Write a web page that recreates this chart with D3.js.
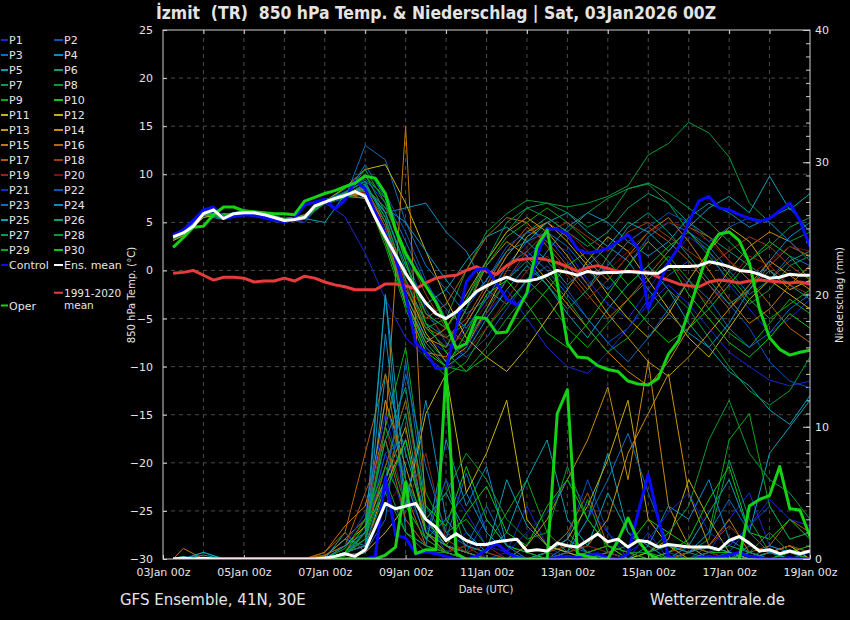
<!DOCTYPE html>
<html>
<head>
<meta charset="utf-8" />
<title>Izmit 850 hPa Temp. & Niederschlag</title>
<script src="https://cdn.jsdelivr.net/npm/d3@7"></script>
<style>
    body { margin: 0; background: #000; }
    svg { display: block; background: #000; }
    text { font-family: "DejaVu Sans", sans-serif; fill: #e4e4e4; }
    .axis path { display: none; }
    .axis line { stroke: #cfcfcf; }
    .axis text { font-size: 11px; fill: #e4e4e4; }
</style>
</head>
<body>
<script>
    // forecast hours after 03Jan2026 00z
    var hoursMain = d3.range(6, 385, 6)
    var hoursMember = [6].concat(d3.range(12, 385, 12))

    var xTickHours = [0, 48, 96, 144, 192, 240, 288, 336, 384]
    var xTickLabels = ["03Jan 00z", "05Jan 00z", "07Jan 00z", "09Jan 00z", "11Jan 00z",
        "13Jan 00z", "15Jan 00z", "17Jan 00z", "19Jan 00z"]
    var tempTicks = [-30, -25, -20, -15, -10, -5, 0, 5, 10, 15, 20, 25]
    var precipTicks = [0, 10, 20, 30, 40]

    var ensMeanTemp = [3.5, 3.9, 4.6, 5.9, 6.3, 5.4, 5.9, 6.0, 6.0, 5.8, 5.5, 5.2, 5.3, 5.5, 6.7, 7.1, 7.5, 7.8, 8.2, 7.7,
        5.5, 3.5, 1.6, -0.3, -1.9, -3.4, -4.5, -5.0, -4.3, -3.3, -2.2, -1.6, -1.1, -0.7, -1.1, -1.1, -0.9, -0.5, 0.0, -0.2,
        -0.5, -0.1, -0.3, -0.2, -0.2, -0.1, -0.2, -0.3, -0.3, 0.4, 0.4, 0.4, 0.5, 0.9, 0.7, 0.4, 0.0, -0.1, -0.4, -0.8,
        -0.7, -0.4, -0.5, -0.5]
    var climTemp = [-0.3, -0.2, 0.0, -0.5, -1.0, -0.7, -0.7, -0.8, -1.2, -1.1, -1.1, -0.8, -1.1, -0.6, -0.8, -1.2, -1.5, -1.7, -2.0, -2.0,
        -2.0, -1.4, -1.4, -1.6, -1.9, -1.3, -0.8, -0.6, -0.5, 0.0, 0.4, -0.1, -0.4, 0.5, 1.1, 1.2, 1.3, 1.1, 0.8, 0.4,
        -0.1, 0.3, 0.5, 0.2, -0.1, -0.1, -0.1, -0.2, -0.7, -1.0, -1.4, -1.6, -1.7, -1.2, -1.0, -1.1, -1.3, -1.1, -1.0, -1.1,
        -1.2, -1.3, -1.2, -1.4]
    var controlTemp = [3.7, 4.2, 5.2, 6.3, 6.6, 5.4, 5.6, 5.8, 5.7, 5.5, 5.2, 5.1, 5.4, 6.8, 7.1, 7.4, 6.4, 7.3, 9.3, 8.5,
        6.0, 3.8, 1.3, -2.5, -7.6, -8.5, -10.2, -10.2, -6.0, -1.2, 0.1, 0.2, -1.3, -3.0, -3.6, -2.5, 1.5, 4.3, 4.3, 3.8,
        2.2, 1.8, 2.0, 2.3, 3.0, 3.7, 2.3, -4.0, -1.5, 0.8, 2.4, 5.0, 7.2, 7.7, 6.5, 6.3, 5.8, 5.4, 5.1, 5.4,
        6.2, 7.0, 5.2, 2.5]
    var operTemp = [2.4, 3.4, 4.5, 4.6, 5.8, 6.6, 6.6, 6.2, 6.1, 6.0, 5.9, 5.9, 5.8, 7.2, 7.6, 8.0, 8.3, 8.7, 9.1, 9.8,
        9.6, 8.0, 4.3, 1.8, 0.0, -1.6, -3.3, -5.5, -8.1, -7.6, -4.9, -5.0, -6.5, -6.4, -4.3, -2.3, 2.5, 4.2, -1.3, -7.6,
        -9.0, -9.1, -9.9, -10.3, -10.5, -11.5, -11.8, -11.9, -11.2, -8.7, -7.3, -4.3, -1.0, 2.2, 3.8, 4.0, 3.1, 0.8, -4.0, -7.0,
        -8.2, -8.8, -8.5, -8.3]

    var ensMeanPrecip = [0, 0.05, 0, 0.05, 0, 0, 0, 0, 0, 0, 0, 0, 0, 0, 0, 0.05, 0.2, 0.4, 0.2, 0.7,
        2.4, 4.2, 3.8, 4.0, 4.2, 3.0, 2.4, 1.4, 1.9, 1.4, 1.1, 1.1, 1.3, 1.4, 1.5, 0.6, 0.7, 0.6, 1.2, 1.0,
        0.9, 1.4, 1.9, 1.3, 1.5, 0.9, 1.4, 1.3, 0.9, 1.1, 1.0, 0.9, 0.9, 0.9, 0.7, 1.4, 1.7, 1.2, 0.6, 0.7,
        0.4, 0.6, 0.4, 0.6]
    var controlPrecip = [0, 0, 0, 0, 0, 0, 0, 0, 0, 0, 0, 0, 0, 0, 0, 0, 0, 0, 0, 0,
        0.2, 6.2, 1.8, 1.6, 0.4, 0.55, 0.4, 0.2, 0, 0, 0.2, 0.7, 1.2, 0.5, 0.1, 0, 0, 0, 0.1, 0.2,
        0.1, 0.3, 0.4, 0.1, 0, 0.4, 3.5, 6.4, 3.0, 0.2, 0, 0, 0.1, 0.2, 0.1, 0.3, 0.5, 0.2, 0.1, 0,
        0, 0.1, 0, 0]
    var operPrecip = [0, 0.1, 0, 0, 0, 0, 0, 0, 0, 0, 0, 0, 0, 0, 0, 0, 0, 0, 0, 0,
        0, 0.3, 0.9, 5.8, 0.4, 0.7, 0.7, 14.4, 0.4, 0, 0, 0, 0, 0, 0, 0, 0, 0, 11.0, 12.8,
        0.4, 0.2, 0, 0, 1.4, 3.1, 1.4, 0.4, 0, 0, 0, 0, 0, 0, 0, 0, 0, 4.0, 4.5, 4.8,
        7.0, 3.8, 3.7, 1.7]

    // perturbed members P1..P30, every 12 h (first value at 06z)
    var memberTemp = [
        [3.4, 3.9, 6.1, 5.4, 6.1, 5.7, 5.1, 5.4, 7.0, 7.9, 8.6, 4.0, -3.5, -7.0, -8.5, -6.0, -3.0, -1.0, 1.5, 3.0, 2.0, -1.0, -3.5, -5.0, -2.0, 1.0, 3.5, 2.0, -1.5, -4.0, -6.5, -5.0, -3.0],
        [3.3, 3.8, 5.8, 5.7, 6.2, 6.0, 5.3, 5.0, 7.3, 7.9, 9.5, 7.0, 1.5, -4.0, -7.5, -9.0, -7.0, -4.0, -1.0, 0.5, -2.0, -5.0, -7.5, -6.0, -3.0, -0.5, 1.0, -1.5, -3.5, -6.0, -9.5, -11.5, -12.2],
        [3.6, 4.1, 6.0, 5.5, 5.8, 5.9, 5.1, 5.6, 6.9, 7.5, 13.0, 11.5, 5.0, 0.5, -2.0, -4.5, -3.0, 0.5, 3.0, 4.0, 2.5, 0.0, -2.0, 0.5, 3.5, 5.0, 4.0, 2.5, 0.0, -2.5, -1.0, 1.5, 0.5],
        [3.5, 4.0, 5.7, 5.3, 6.3, 5.6, 5.0, 5.7, 7.2, 8.1, 8.5, 6.0, 6.5, 7.0, 4.0, 2.0, -2.0, -3.5, -1.0, 2.0, 4.5, 6.0, 5.0, 3.0, 1.5, 3.0, 5.5, 7.0, 6.0, 4.5, 5.5, 6.5, 4.0],
        [3.7, 4.3, 6.3, 5.6, 5.7, 5.9, 5.4, 5.3, 7.0, 7.7, 7.5, 3.0, -3.0, -8.0, -10.0, -8.5, -5.0, -2.0, 0.5, -1.5, -4.5, -7.0, -4.0, -1.5, 0.5, -2.0, -5.5, -8.0, -10.5, -12.0, -14.5, -16.0, -13.0],
        [3.4, 4.1, 6.0, 5.8, 6.0, 5.5, 5.2, 5.6, 7.4, 7.8, 9.0, 5.5, -1.0, -5.5, -7.0, -5.5, -2.0, 1.5, 4.0, 5.5, 4.0, 2.5, 4.0, 6.5, 8.0, 7.0, 5.0, 3.5, 2.0, 0.5, -1.0, 1.0, 2.0],
        [3.2, 3.7, 6.2, 5.4, 6.1, 5.8, 5.0, 5.5, 7.1, 8.5, 10.0, 6.0, 0.0, -4.5, -6.0, -3.0, 1.0, 4.0, 6.5, 7.0, 6.0, 4.5, 5.5, 8.5, 9.0, 7.0, 4.0, 1.5, -1.0, -3.5, -2.0, 0.5, 1.5],
        [3.5, 4.0, 5.9, 5.6, 5.9, 5.7, 5.3, 5.5, 7.2, 7.6, 8.8, 4.5, -2.0, -6.0, -5.0, 0.0, 4.0, 5.9, 7.3, 7.0, 6.6, 7.0, 7.7, 8.8, 12.0, 13.2, 15.4, 14.3, 11.8, 7.0, 5.0, 3.0, 4.0],
        [3.6, 4.2, 6.1, 5.3, 6.0, 5.8, 5.2, 5.4, 7.0, 7.9, 8.0, 2.5, -4.0, -9.0, -11.0, -9.5, -6.0, -3.5, -1.0, -3.0, -6.0, -8.0, -5.5, -3.0, -1.0, 1.5, -1.0, -4.0, -6.5, -8.0, -5.5, -3.0, -4.5],
        [3.3, 3.9, 6.0, 5.7, 6.1, 5.9, 5.4, 5.6, 7.3, 8.0, 9.8, 7.5, 1.0, -5.5, -8.5, -10.5, -9.0, -7.0, -4.5, -2.0, 0.5, 2.0, -0.5, -3.0, -5.5, -7.5, -6.0, -4.0, -1.5, 1.0, 3.0, 1.5, -1.0],
        [3.1, 3.6, 5.5, 5.9, 5.8, 5.5, 5.1, 5.8, 7.2, 8.6, 10.5, 11.0, 7.0, 2.0, -3.0, -7.0, -9.0, -10.5, -8.0, -5.0, -2.0, 1.0, 3.5, 2.0, -1.0, -4.0, -7.0, -9.0, -6.0, -3.0, -1.0, -2.5, -4.0],
        [3.5, 4.0, 5.8, 5.5, 6.0, 5.6, 5.2, 5.5, 7.1, 7.8, 8.5, 5.0, -1.5, -6.5, -9.5, -8.0, -4.0, 0.0, 3.5, 5.0, 3.0, 0.5, -2.5, -5.0, -7.0, -4.5, -1.0, 2.0, 4.5, 3.0, 0.0, -2.0, -1.0],
        [3.4, 3.9, 6.1, 5.7, 6.2, 5.9, 5.3, 5.4, 7.0, 7.7, 8.2, 4.0, -3.0, -7.5, -6.0, -2.5, 1.0, 4.0, 5.5, 4.0, 1.5, -1.5, -4.5, -7.0, -9.5, -11.0, -9.0, -6.5, -4.0, -1.5, 1.0, -0.5, -2.0],
        [3.6, 4.2, 6.0, 5.4, 5.9, 5.8, 5.4, 5.6, 7.3, 8.0, 8.6, 4.5, -2.5, -7.0, -8.0, -4.0, 0.5, 3.0, 1.5, -1.0, -3.5, -6.0, -8.5, -10.5, -12.0, -9.5, -6.0, -3.0, 0.0, 2.5, 4.0, 3.0, 1.0],
        [3.5, 4.1, 5.9, 5.6, 6.1, 5.7, 5.1, 5.3, 7.2, 7.7, 8.0, 3.5, -3.5, -8.5, -9.0, -5.5, -2.0, 1.5, 4.0, 5.0, 3.5, 1.0, -1.0, 1.5, 4.0, 5.5, 3.0, 0.0, -3.0, -5.5, -4.0, -1.5, 0.5],
        [3.3, 3.8, 6.2, 5.5, 6.0, 5.9, 5.2, 5.6, 7.1, 7.9, 7.5, 3.0, -2.0, -5.0, -3.5, 0.0, 3.5, 5.5, 5.0, 2.5, 0.0, -2.5, -5.0, -3.0, -0.5, 2.0, 4.5, 3.5, 1.0, -1.0, -3.5, -6.0, -7.5],
        [3.4, 4.0, 6.0, 5.6, 5.9, 5.6, 5.3, 5.5, 7.2, 7.8, 8.3, 4.0, -3.0, -6.0, -7.0, -5.0, -1.5, 2.0, 4.5, 3.0, 0.5, -2.0, 0.5, 3.0, 4.5, 3.0, 1.0, -1.5, -4.0, -2.0, 0.5, 2.5, 1.5],
        [3.6, 4.1, 5.9, 5.4, 6.1, 5.8, 5.0, 5.4, 7.0, 8.0, 8.7, 6.5, 2.0, -2.5, -6.0, -7.5, -4.5, -1.0, 2.0, 4.0, 5.0, 3.5, 2.0, 4.0, 5.0, 3.5, 2.0, 0.5, 2.0, 3.5, 2.5, 0.5, -1.0],
        [3.5, 3.9, 6.0, 5.7, 6.0, 5.7, 5.2, 5.5, 7.1, 7.7, 8.4, 5.0, -1.0, -4.5, -7.0, -8.5, -6.0, -3.0, 0.0, 1.5, -0.5, -3.0, -1.0, 1.5, 3.0, 1.0, -1.5, -3.5, -1.0, 1.5, 0.5, -1.5, -2.5],
        [3.4, 4.0, 6.1, 5.5, 6.1, 5.8, 5.3, 5.6, 7.2, 7.9, 8.1, 4.5, -1.5, -6.0, -8.0, -6.5, -3.5, 0.0, 2.5, 4.5, 4.0, 2.0, 0.0, 2.0, 4.0, 5.0, 4.5, 3.0, 1.0, -0.5, 1.0, 2.5, 2.0],
        [3.5, 4.0, 6.3, 5.6, 6.0, 5.5, 5.0, 5.3, 7.0, 5.6, 1.8, -3.0, -7.0, -9.0, -10.5, -8.0, -4.5, -2.0, -5.0, -8.0, -10.0, -10.7, -8.5, -6.0, -3.5, -1.5, -3.5, -6.0, -8.5, -10.0, -11.4, -12.0, -11.5],
        [3.4, 3.9, 5.9, 5.8, 6.2, 6.0, 5.4, 5.5, 7.3, 8.2, 9.2, 8.0, 4.0, -1.0, -5.0, -4.0, -1.0, 2.5, 4.0, 3.5, 1.0, -1.5, 0.5, 3.0, 4.5, 6.0, 5.0, 3.0, 4.5, 5.5, 5.0, 3.0, 1.0],
        [3.6, 4.2, 6.0, 5.4, 5.8, 5.7, 5.2, 5.6, 7.1, 7.6, 11.0, 7.5, 3.0, -1.5, -4.0, -6.0, -3.0, 0.5, 2.0, 0.0, -2.5, -5.0, -7.5, -9.5, -7.0, -4.0, -1.0, -3.0, -6.0, -8.0, -6.5, -4.0, -2.5],
        [3.5, 4.1, 6.1, 5.5, 6.0, 5.8, 5.1, 5.5, 7.2, 7.7, 8.6, 6.5, 5.0, 2.0, -1.0, -3.5, -1.0, 2.0, 3.0, 1.0, -1.5, 0.5, 2.5, 1.0, -2.0, -4.5, -6.5, -8.0, -5.5, -2.0, 1.0, 3.5, 5.0],
        [3.3, 3.8, 5.8, 5.6, 6.1, 5.9, 5.3, 5.4, 5.0, 7.9, 8.8, 6.0, 0.5, -3.5, -2.0, 1.0, 3.5, 4.5, 3.0, 5.0, 6.0, 4.0, 2.5, 5.0, 4.0, 2.0, 4.5, 6.5, 7.7, 6.0, 9.8, 6.3, 8.0],
        [3.6, 4.0, 6.2, 5.3, 5.9, 5.6, 5.2, 5.6, 7.1, 8.1, 9.3, 5.0, -2.5, -7.0, -9.5, -7.5, -4.0, -1.0, 1.0, -1.5, -4.0, -2.0, 1.5, 4.5, 6.0, 4.0, 1.5, -1.0, -3.5, -2.0, 0.0, -1.5, -3.0],
        [3.5, 4.0, 6.0, 5.7, 6.0, 5.8, 5.3, 5.5, 7.2, 7.8, 9.0, 5.5, -1.0, -6.0, -8.0, -4.0, 1.0, 5.0, 6.5, 5.5, 4.0, 6.0, 7.5, 8.5, 9.1, 8.0, 6.5, 5.0, 3.0, 1.0, 2.5, 4.5, 5.5],
        [3.4, 3.9, 6.1, 5.6, 6.1, 5.7, 5.2, 5.4, 7.0, 7.7, 8.4, 3.5, -3.5, -7.5, -10.0, -10.5, -8.0, -5.0, -2.5, -0.5, -3.0, -6.0, -8.5, -7.0, -4.5, -2.0, -4.0, -7.0, -10.0, -12.5, -14.0, -12.5, -9.0],
        [3.5, 4.1, 6.0, 5.5, 6.0, 5.7, 5.1, 5.6, 7.3, 7.9, 10.5, 7.0, 1.0, -4.5, -6.0, -3.0, 0.5, 3.5, 5.0, 6.5, 5.0, 3.0, 1.0, -1.5, 0.5, 2.5, 4.0, 2.0, -0.5, -3.0, -5.0, -3.5, -2.0],
        [3.6, 4.2, 5.9, 5.8, 6.2, 5.9, 5.4, 5.6, 7.1, 7.6, 8.0, 3.0, -3.5, -8.5, -10.0, -6.5, -2.5, -1.0, -3.5, -6.5, -8.0, -5.5, -2.5, 0.5, 3.0, 1.0, -2.5, -5.0, -7.5, -9.0, -7.0, -4.5, -6.0]
    ]
    var memberPrecip = [
        [0, 0.2, 0, 0, 0, 0, 0, 0, 0, 0.5, 1.5, 8.0, 3.0, 1.0, 0.5, 2.0, 0, 0.5, 4.0, 1.0, 0, 0, 0.5, 0, 2.0, 0, 0, 0.5, 3.0, 5.0, 1.0, 0.5, 0],
        [0, 0, 0, 0, 0, 0, 0, 0, 0, 0.3, 2.0, 12.0, 6.0, 2.5, 1.0, 0.5, 3.0, 1.0, 0, 0.5, 1.5, 6.0, 2.0, 0, 0, 0.5, 0, 1.0, 0.5, 2.5, 4.0, 1.5, 2.0],
        [0, 0, 0, 0, 0, 0, 0, 0, 0, 0, 0.5, 3.0, 15.0, 4.0, 1.5, 6.5, 2.0, 0.5, 0, 0, 1.0, 0.5, 0, 0, 0, 0, 0, 0, 0.5, 0, 0, 0, 0],
        [0, 0, 0.5, 0, 0, 0, 0, 0, 0.2, 1.5, 1.0, 20.0, 2.0, 1.0, 9.0, 4.0, 7.0, 1.0, 0.5, 0, 0, 0, 0.5, 0, 0, 0, 0, 0.5, 0, 0, 1.0, 0.5, 0],
        [0, 0, 0.3, 0, 0, 0, 0, 0, 0, 2.0, 0.5, 14.0, 8.0, 3.0, 5.0, 2.0, 0.5, 6.0, 2.5, 1.0, 0.5, 3.0, 8.0, 2.0, 1.0, 0, 1.0, 3.5, 6.0, 2.0, 8.0, 10.0, 12.0],
        [0, 0, 0, 0, 0, 0, 0, 0, 0, 0.5, 3.0, 6.0, 11.0, 2.0, 0.5, 1.0, 0, 0, 0, 0, 0.5, 0, 0, 0, 0, 0, 0.5, 0, 0, 1.0, 0.5, 0, 0],
        [0, 0, 0, 0, 0, 0, 0, 0, 0.3, 1.0, 2.5, 9.0, 4.0, 1.5, 6.0, 0.5, 0, 0, 0, 0, 0, 0, 0, 0, 0, 0, 0.5, 1.5, 7.5, 3.0, 0.5, 1.0, 0.5],
        [0, 0, 0, 0, 0, 0, 0, 0, 0, 0.5, 1.0, 5.0, 2.0, 0.5, 0.5, 0, 0, 0, 0, 0, 0, 0, 0, 0, 0, 0, 0, 0, 0, 0.5, 2.0, 0.5, 0],
        [0, 0, 0, 0, 0, 0, 0, 0, 0, 0.2, 2.0, 10.0, 16.0, 5.0, 2.0, 3.0, 1.0, 3.5, 6.0, 2.0, 0.5, 4.5, 0.5, 0, 0.5, 0, 0.5, 2.0, 9.0, 11.0, 4.0, 1.5, 2.0],
        [0, 0, 0, 0, 0, 0, 0, 0, 0, 0.4, 1.5, 7.0, 12.0, 4.0, 2.5, 7.0, 3.0, 1.0, 0.5, 0, 0, 0, 0.5, 1.0, 3.0, 2.0, 1.0, 0.5, 0.5, 0, 0, 0.5, 1.0],
        [0, 0, 0, 0, 0, 0, 0, 0, 0, 0, 0.5, 2.0, 4.0, 11.0, 14.0, 5.0, 8.0, 12.0, 3.0, 1.0, 0.5, 0, 0, 0, 0.5, 1.5, 6.0, 3.0, 0.5, 0, 0.5, 1.0, 0],
        [0, 0, 0, 0, 0, 0, 0, 0, 0, 0.5, 1.0, 5.5, 9.0, 3.0, 1.0, 0.5, 0, 0, 0, 0.5, 1.5, 4.0, 7.5, 12.0, 3.0, 1.0, 0, 0, 0, 0, 0.5, 1.0, 0],
        [0, 0, 0, 0, 0, 0, 0, 0, 0, 1.0, 2.5, 6.0, 10.0, 2.0, 1.0, 0, 0, 0, 0, 0, 0.5, 1.0, 3.0, 8.0, 11.0, 14.0, 5.0, 1.0, 0.5, 0, 0, 0.5, 0.5],
        [0, 0, 0, 0, 0, 0, 0, 0, 0.2, 1.5, 3.0, 12.0, 7.0, 2.0, 0.5, 0, 0, 0, 1.0, 3.0, 6.0, 9.0, 13.0, 6.0, 15.0, 4.0, 1.0, 0, 0, 0, 0, 0, 0],
        [0, 0.8, 0, 0, 0, 0, 0, 0, 0.5, 2.5, 4.0, 10.0, 32.7, 3.0, 1.0, 0.5, 0, 0, 0, 0, 0, 0.5, 1.0, 0.5, 0, 0, 0.5, 1.0, 3.0, 0.5, 0, 0, 0],
        [0, 0, 0, 0, 0, 0, 0, 0, 0.5, 2.0, 8.0, 14.0, 5.0, 1.0, 0.5, 0, 0, 0, 0, 0.5, 2.0, 5.0, 1.0, 0, 0, 0, 0, 0, 0, 0.5, 1.0, 3.0, 2.0],
        [0, 0, 0, 0, 0, 0, 0, 0, 0.3, 1.0, 5.0, 9.0, 3.0, 1.0, 0.5, 1.0, 0.5, 0, 0, 0.5, 1.0, 0, 0, 0, 0, 0.5, 1.0, 0.5, 0, 0, 0, 0, 0],
        [0, 0, 0, 0, 0, 0, 0, 0, 0, 0.5, 2.0, 7.0, 12.0, 3.0, 1.5, 0.5, 0, 0, 0, 0, 0, 0, 0, 0, 0, 0, 0.5, 1.0, 2.5, 1.0, 0.5, 1.0, 0.5],
        [0, 0, 0, 0, 0, 0, 0, 0, 0, 0.5, 3.0, 10.0, 4.0, 8.0, 1.5, 0.5, 1.0, 0, 0, 0, 0.5, 1.0, 0.5, 0, 0, 0, 0, 0, 0, 0, 0.5, 0, 0],
        [0, 0, 0, 0, 0, 0, 0, 0, 0, 0.3, 1.5, 4.0, 6.0, 1.5, 0.5, 1.0, 0, 0, 0, 0, 0, 0, 0, 0, 0, 0, 0, 0.5, 0, 0, 0, 0, 0],
        [0, 0, 0, 0, 0, 0, 0, 0, 0, 1.0, 3.5, 11.0, 5.0, 2.0, 6.0, 3.5, 1.0, 0.5, 2.0, 3.5, 6.0, 4.0, 2.0, 0.5, 1.5, 3.5, 5.0, 2.0, 1.0, 2.5, 4.5, 3.0, 2.5],
        [0, 0, 0, 0, 0, 0, 0, 0, 0, 0.5, 2.0, 8.0, 9.0, 3.0, 0.5, 0, 0, 0, 0, 0.5, 0, 0, 0, 0, 0, 0, 0, 0, 0, 0, 0, 0, 0],
        [0, 0, 0, 0, 0, 0, 0, 0, 0, 0.5, 1.0, 6.0, 14.0, 7.0, 2.0, 1.0, 4.0, 1.0, 0, 0, 0.5, 3.0, 6.0, 9.5, 5.0, 1.0, 0.5, 2.0, 4.5, 2.0, 0.5, 0, 0.5],
        [0, 0, 0, 0, 0, 0, 0, 0, 0, 0.3, 0.5, 17.0, 4.0, 12.0, 3.0, 5.0, 2.0, 0.5, 0, 0.5, 1.5, 0.5, 0, 0, 1.0, 4.0, 3.0, 6.0, 1.5, 0.5, 0, 0, 0],
        [0, 0, 0.5, 0, 0, 0, 0, 0, 0, 1.0, 2.0, 20.0, 6.0, 1.5, 3.0, 1.0, 0.5, 2.0, 6.0, 9.0, 3.0, 1.0, 5.0, 2.0, 0.5, 1.0, 0.5, 1.0, 0.5, 0, 0.5, 0, 0],
        [0, 0, 0, 0, 0, 0, 0, 0, 0, 0.5, 2.0, 9.0, 13.0, 3.0, 1.0, 0.5, 0, 0, 0, 0.5, 2.0, 0.5, 0, 0, 0, 0, 0, 0.5, 1.0, 0.5, 0, 0.5, 0],
        [0, 0, 0, 0, 0, 0, 0, 0, 0, 0.3, 1.5, 6.0, 2.0, 1.0, 0.5, 0, 0, 0, 0, 0, 0, 0, 0, 0, 0, 0, 0, 0, 0, 0.5, 0, 0, 0],
        [0, 0, 0, 0, 0, 0, 0, 0, 0, 0.5, 1.5, 10.0, 6.0, 3.0, 5.0, 8.0, 6.0, 3.0, 1.5, 2.0, 7.0, 3.0, 1.0, 0.5, 0.5, 2.0, 4.0, 9.0, 12.0, 8.0, 6.0, 5.0, 3.0],
        [0, 0, 0, 0, 0, 0, 0, 0, 0, 0.8, 3.0, 7.0, 4.0, 1.5, 0.5, 0, 0, 0, 0, 0, 0, 0.5, 1.0, 0.5, 0, 0, 0, 0, 0, 0, 0, 0.5, 0],
        [0, 0, 0, 0, 0, 0, 0, 0, 0, 0.5, 2.5, 5.0, 9.0, 2.0, 1.0, 3.5, 5.5, 2.0, 1.0, 4.0, 6.0, 3.0, 1.0, 0, 0, 0.5, 1.5, 4.5, 7.0, 2.0, 1.5, 3.0, 1.5]
    ]
    var memberNames = d3.range(1, 31).map(function (n) { return "P" + n })
    var memberColors = ["#1a28d2", "#0a50c0", "#0a6ebe", "#0a8cc0", "#0aa0b4", "#0a9b78", "#0a9a4a", "#0a9a32", "#0aaa14", "#0ac80a",
        "#c8b40a", "#c8aa0a", "#c8960a", "#c88c0a", "#c8780a", "#b4640a", "#b45a0a", "#a03c14", "#8c2814", "#781414",
        "#1a28d2", "#0a50c0", "#0a6ebe", "#0a8cc0", "#0aa0b4", "#0a9b78", "#0a9a4a", "#0a9a32", "#0aaa14", "#0ac80a"]

    var config = {
        plot: { LEFT: 163, RIGHT: 810, TOP: 30, BOTTOM: 559 },
        color: { CONTROL: "#0a0aff", OPER: "#14d214", MEAN: "#ffffff", CLIM: "#e83c3c", GRID: "#4a4a4a", FRAME: "#d0d0d0" }
    }
    var p = config.plot

    var svg = d3.select("body").append("svg").attr("width", 850).attr("height", 620)

    var x = d3.scaleLinear().domain([0, 384]).range([p.LEFT, p.RIGHT])
    var yT = d3.scaleLinear().domain([-30, 25]).range([p.BOTTOM, p.TOP])
    var yP = d3.scaleLinear().domain([0, 40]).range([p.BOTTOM, p.TOP])

    svg.append("clipPath").attr("id", "plot-clip").append("rect")
        .attr("x", p.LEFT).attr("y", p.TOP).attr("width", p.RIGHT - p.LEFT).attr("height", p.BOTTOM - p.TOP)

    // dashed grid
    var grid = svg.append("g")
    grid.selectAll(".vgrid").data(d3.range(24, 384, 24)).join("line").attr("class", "vgrid")
        .attr("x1", d => x(d)).attr("x2", d => x(d)).attr("y1", p.TOP).attr("y2", p.BOTTOM)
    grid.selectAll(".hgrid").data(tempTicks.slice(1, -1)).join("line").attr("class", "hgrid")
        .attr("x1", p.LEFT).attr("x2", p.RIGHT).attr("y1", d => yT(d)).attr("y2", d => yT(d))
    grid.selectAll("line").attr("stroke", config.color.GRID).attr("stroke-width", 1).attr("stroke-dasharray", "4,4")

    // axes
    svg.append("g").attr("class", "axis").attr("transform", "translate(" + p.LEFT + ",0)")
        .call(d3.axisLeft(yT).tickValues(tempTicks).tickSize(-4).tickPadding(10))
    svg.append("g").attr("class", "axis").attr("transform", "translate(" + p.RIGHT + ",0)")
        .call(d3.axisRight(yP).tickValues(precipTicks).tickSize(-7).tickPadding(5))
    svg.append("g").attr("class", "axis").attr("transform", "translate(" + p.RIGHT + ",0)")
        .call(d3.axisRight(yP).tickValues(d3.range(1, 40)).tickSize(-4).tickFormat(""))
    svg.append("g").attr("class", "axis").attr("transform", "translate(0," + p.BOTTOM + ")")
        .call(d3.axisBottom(x).tickValues(xTickHours).tickSize(-4).tickPadding(9)
            .tickFormat(function (d, i) { return xTickLabels[i] }))
    svg.append("g").attr("class", "axis").attr("transform", "translate(0," + p.TOP + ")")
        .call(d3.axisTop(x).tickValues(d3.range(24, 384, 24)).tickSize(-4).tickFormat(""))

    // series
    var lines = svg.append("g").attr("clip-path", "url(#plot-clip)")
    var lineT = function (hours) {
        return d3.line().x(function (d, i) { return x(hours[i]) }).y(function (d) { return yT(d) })
    }
    var lineP = function (hours) {
        return d3.line().x(function (d, i) { return x(hours[i]) }).y(function (d) { return yP(d) })
    }
    memberTemp.forEach(function (row, m) {
        lines.append("path").datum(row).attr("d", lineT(hoursMember)).attr("fill", "none")
            .attr("stroke", memberColors[m]).attr("stroke-width", 1)
    })
    memberPrecip.forEach(function (row, m) {
        lines.append("path").datum(row).attr("d", lineP(hoursMember)).attr("fill", "none")
            .attr("stroke", memberColors[m]).attr("stroke-width", 1)
    })
    var thick = [
        [climTemp, lineT, config.color.CLIM],
        [controlTemp, lineT, config.color.CONTROL],
        [controlPrecip, lineP, config.color.CONTROL],
        [operTemp, lineT, config.color.OPER],
        [operPrecip, lineP, config.color.OPER],
        [ensMeanTemp, lineT, config.color.MEAN],
        [ensMeanPrecip, lineP, config.color.MEAN]
    ]
    thick.forEach(function (s) {
        lines.append("path").datum(s[0]).attr("d", s[1](hoursMain)).attr("fill", "none")
            .attr("stroke", s[2]).attr("stroke-width", 3).attr("stroke-linejoin", "round")
    })

    // frame
    svg.append("rect").attr("x", p.LEFT).attr("y", p.TOP).attr("width", p.RIGHT - p.LEFT).attr("height", p.BOTTOM - p.TOP)
        .attr("fill", "none").attr("stroke", config.color.FRAME).attr("stroke-width", 1)

    // titles
    svg.append("text").attr("x", 436).attr("y", 19).attr("text-anchor", "middle")
        .style("font-family", "'DejaVu Sans Condensed', 'DejaVu Sans', sans-serif").style("font-stretch", "condensed")
        .style("font-weight", "bold").style("font-size", "17.4px").style("white-space", "pre")
        .text("İzmit  (TR)  850 hPa Temp. & Niederschlag | Sat, 03Jan2026 00Z")
    svg.append("text").attr("transform", "translate(135,295) rotate(-90)").attr("text-anchor", "middle")
        .style("font-size", "10px").text("850 hPa Temp. (°C)")
    svg.append("text").attr("transform", "translate(843,295) rotate(-90)").attr("text-anchor", "middle")
        .style("font-size", "10px").text("Niederschlag (mm)")
    svg.append("text").attr("x", 486).attr("y", 593).attr("text-anchor", "middle")
        .style("font-size", "10px").text("Date (UTC)")
    svg.append("text").attr("x", 120).attr("y", 605).style("font-size", "15px").text("GFS Ensemble, 41N, 30E")
    svg.append("text").attr("x", 650).attr("y", 605).style("font-size", "15px").text("Wetterzentrale.de")

    // legend
    var legend = svg.append("g")
    var legendItems = memberNames.map(function (name, i) {
        return { name: name, color: memberColors[i], col: i % 2, row: Math.floor(i / 2) }
    })
    legendItems.push({ name: "Control", color: config.color.CONTROL, col: 0, row: 15 })
    legendItems.push({ name: "Ens. mean", color: config.color.MEAN, col: 1, row: 15 })
    legendItems.push({ name: "Oper", color: config.color.OPER, col: 0, row: 17.7 })
    legendItems.push({ name: "1991-2020", color: config.color.CLIM, col: 1, row: 16.85, extra: "mean" })
    var item = legend.selectAll("g").data(legendItems).join("g")
        .attr("transform", function (d) { return "translate(" + (d.col ? 53 : 0) + "," + (40 + d.row * 15) + ")" })
    item.append("line").attr("x1", 1).attr("x2", function (d) { return d.col ? 10 : 8 }).attr("y1", 0).attr("y2", 0)
        .attr("stroke", function (d) { return d.color }).attr("stroke-width", 2)
    item.append("text").attr("x", function (d) { return d.col ? 11 : 9 }).attr("y", 4)
        .style("font-size", function (d) { return d.extra ? "10.5px" : "11px" }).text(function (d) { return d.name })
    item.filter(function (d) { return d.extra }).append("text").attr("x", 11).attr("y", 16)
        .style("font-size", "10.5px").text(function (d) { return d.extra })
</script>
</body>
</html>
